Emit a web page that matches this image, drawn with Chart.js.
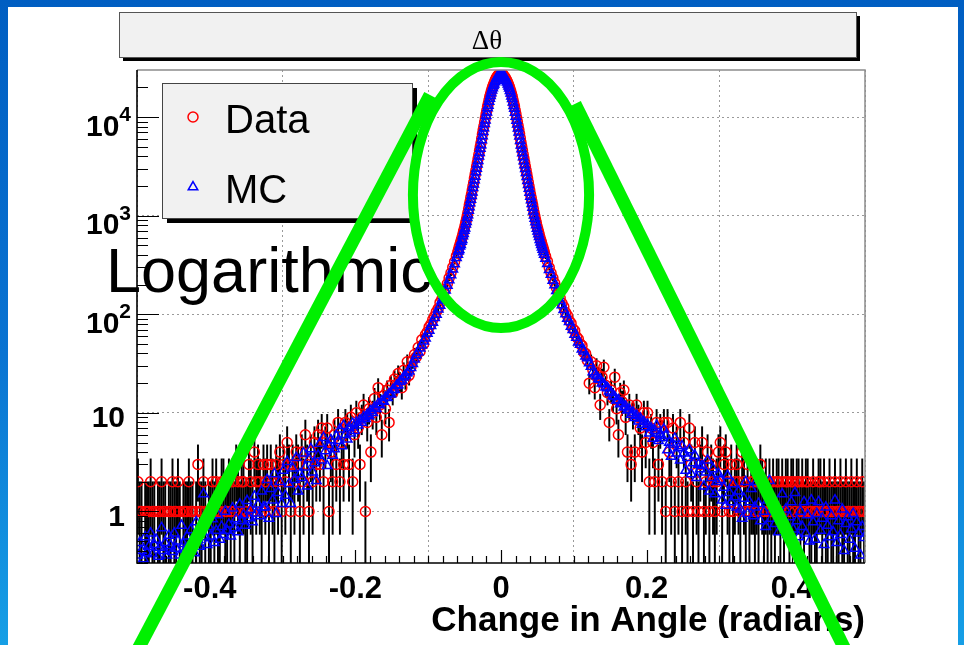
<!DOCTYPE html>
<html>
<head>
<meta charset="utf-8">
<title>Δθ</title>
<script src="https://cdn.jsdelivr.net/npm/chart.js@4.4.1/dist/chart.umd.min.js"></script>
<style>
  html, body { margin: 0; padding: 0; overflow: hidden; }
  body {
    width: 964px; height: 645px; position: relative;
    background: linear-gradient(to bottom, #005ec2 0%, #0a74d2 55%, #169fe6 100%);
  }
  #sheet { position: absolute; left: 8px; top: 7px; width: 950px; height: 638px; background: #fff; }
  #wrap { position: absolute; left: 0; top: 0; width: 964px; height: 645px; }
</style>
</head>
<body>
<div id="sheet"></div>
<div id="wrap"><canvas id="chart"></canvas></div>
<script>
// histogram binning: [low edge, high edge, bin width]
const binSegments = [
  [-0.50, -0.06, 0.0025],
  [-0.06, 0.06, 0.001],
  [0.06, 0.50, 0.0025]
];

const dataCounts = [
  // -0.50 .. -0.12
  2, 1, 1, 0, 1, 1, 1, 2, 1, 1,
  0, 1, 1, 2, 1, 1, 0, 1, 1, 2,
  1, 1, 2, 1, 0, 1, 1, 1, 2, 1,
  1, 0, 1, 3, 1, 1, 2, 1, 0, 1,
  1, 2, 1, 2, 1, 1, 2, 2, 1, 1,
  2, 1, 2, 1, 3, 2, 1, 2, 2, 1,
  1, 3, 2, 1, 4, 2, 3, 2, 1, 3,
  2, 3, 1, 3, 2, 1, 3, 2, 4, 1,
  3, 2, 5, 3, 1, 3, 2, 4, 3, 1,
  4, 2, 6, 3, 1, 4, 2, 5, 3, 6,
  3, 7, 2, 5, 7, 1, 4, 2, 6, 3,
  8, 2, 5, 3, 8, 7, 3, 9, 2, 6,
  10, 7, 3, 9, 12, 1, 8, 11, 4, 10,
  14, 9, 18, 12, 6, 15, 11, 17, 8, 19,
  16, 22, 19, 25, 21, 18, 27, 22, 33, 24,
  29, 34,
  // -0.12 .. -0.06
  39, 37, 46, 42, 55, 50, 62, 66, 74, 79, 88, 95, 106, 114, 131, 142, 163, 180, 204, 233, 262, 300, 340, 390,
  // -0.06 .. 0
  421, 448, 478, 503, 534, 565, 601, 640, 690, 728,
  782, 845, 905, 982, 1068, 1165, 1283, 1385, 1522, 1650,
  1810, 1985, 2170, 2390, 2620, 2865, 3150, 3440, 3780, 4150,
  4540, 4980, 5460, 6050, 6710, 7370, 8060, 8850, 9700, 10650,
  11620, 12720, 13620, 14780, 15950, 16900, 18000, 19100, 20150, 21100,
  22000, 23100, 23900, 24800, 25450, 26150, 26600, 27200, 27600, 28100,
  // 0 .. 0.06
  28000, 27450, 26950, 26400, 25800, 25250, 24450, 23700, 22900, 22000,
  21100, 20150, 19150, 18100, 16980, 16050, 14850, 13750, 12830, 11720,
  10740, 9780, 8950, 8160, 7440, 6770, 6110, 5500, 5010, 4560,
  4170, 3800, 3460, 3150, 2880, 2620, 2390, 2175, 1985, 1810,
  1650, 1520, 1390, 1278, 1168, 1066, 985, 905, 846, 780,
  731, 686, 643, 601, 566, 535, 504, 478, 451, 425,
  // 0.06 .. 0.12
  386, 344, 297, 262, 233, 206, 185, 160, 146, 129, 119, 104, 97, 86, 81, 71, 68, 59, 56, 50, 48, 41, 40, 34,
  // 0.12 .. 0.50
  20, 33,
  27, 18, 30, 24, 12, 23, 29, 19, 16, 8,
  17, 14, 23, 11, 6, 16, 13, 17, 9, 4,
  12, 3, 10, 4, 12, 9, 7, 4, 10, 5,
  10, 2, 7, 5, 2, 8, 3, 7, 2, 8,
  1, 8, 4, 2, 7, 1, 5, 2, 8, 1,
  5, 2, 1, 7, 3, 1, 5, 2, 1, 3,
  5, 1, 2, 4, 1, 3, 2, 1, 2, 4,
  5, 1, 3, 4, 2, 1, 3, 1, 2, 3,
  2, 1, 4, 2, 1, 3, 1, 2, 2, 1,
  2, 1, 3, 2, 1, 2, 1, 2, 1, 2,
  1, 2, 2, 1, 2, 1, 2, 2, 1, 2,
  2, 1, 2, 2, 1, 2, 1, 2, 2, 1,
  1, 2, 1, 1, 2, 2, 1, 2, 1, 1,
  2, 1, 1, 2, 1, 1, 2, 1, 1, 2,
  1, 1, 2, 1, 1, 2, 1, 1, 2, 1
];

const mcCounts = [
  // -0.50 .. -0.12
  0.36, 0.48, 0.40, 0.33, 0.55, 0.38, 0.44, 0.60, 0.37, 0.46,
  0.52, 0.35, 0.43, 0.68, 0.40, 0.48, 0.36, 0.57, 0.45, 0.39,
  0.60, 0.42, 0.50, 0.36, 0.72, 0.47, 0.41, 0.56, 0.45, 0.65,
  0.48, 0.38, 0.78, 0.52, 0.44, 0.62, 1.50, 0.55, 0.46, 0.70,
  0.56, 0.84, 0.48, 0.64, 0.92, 0.52, 0.70, 0.58, 1.00, 0.64,
  0.74, 0.56, 1.08, 0.68, 0.84, 0.62, 1.18, 0.80, 0.92, 0.72,
  1.28, 0.86, 1.04, 0.78, 1.42, 0.96, 1.18, 0.90, 1.60, 1.10,
  1.10, 2.10, 0.85, 1.70, 1.30, 2.40, 0.95, 1.55, 2.00, 1.20,
  2.60, 1.45, 3.20, 1.90, 1.20, 2.75, 2.10, 3.50, 1.60, 2.40,
  2.20, 3.90, 2.80, 1.80, 3.40, 4.30, 2.50, 3.10, 2.05, 3.70,
  4.90, 3.30, 5.60, 4.10, 2.90, 4.60, 5.30, 3.70, 4.30, 5.80,
  5.20, 6.80, 4.60, 7.40, 6.00, 5.40, 7.10, 6.20, 7.80, 6.60,
  8.00, 7.50, 8.40, 8.00, 9.10, 8.70, 9.60, 9.30, 10.5, 10.0,
  11.4, 11.0, 12.3, 12.0, 13.2, 13.0, 14.3, 14.2, 15.6, 15.4,
  17.0, 17.2, 18.8, 19.2, 20.8, 21.4, 23.0, 23.8, 25.4, 26.4,
  28.6, 31.4,
  // -0.12 .. -0.06
  35.0, 38.6, 41.2, 45.3, 48.5, 53.1, 57.0, 63.8, 68.5, 76.4, 82.6, 91.9, 99.3, 112.6, 122.4, 138.8, 154.3, 174.9, 196.2, 222.0, 250.1, 286.2, 323.1, 373.4,
  // -0.06 .. 0
  403, 436, 452, 489, 508, 548, 570, 622, 655, 706,
  744, 818, 865, 950, 1015, 1130, 1222, 1342, 1455, 1594,
  1729, 1916, 2080, 2302, 2500, 2768, 3005, 3330, 3612, 4003,
  4342, 4810, 5220, 5850, 6420, 7110, 7725, 8550, 9290, 10280,
  11170, 12360, 13120, 14350, 15420, 16470, 17500, 18700, 19650, 20730,
  21550, 22720, 23380, 24330, 25050, 25780, 26220, 26990, 27450, 28250,
  // 0 .. 0.06
  28100, 27380, 26850, 26310, 25620, 25040, 24180, 23390, 22510, 21540,
  20560, 19580, 18520, 17440, 16290, 15370, 14150, 13050, 12180, 11090,
  10150, 9210, 8430, 7690, 7010, 6390, 5760, 5190, 4730, 4310,
  3940, 3590, 3270, 2985, 2725, 2480, 2265, 2062, 1880, 1715,
  1565, 1444, 1318, 1212, 1108, 1011, 934, 860, 804, 741,
  694, 652, 611, 571, 538, 508, 479, 454, 428, 404,
  // 0.06 .. 0.12
  368.5, 326.0, 283.4, 252.7, 219.6, 198.3, 172.8, 156.1, 137.0, 124.2, 110.9, 100.8, 90.3, 83.9, 75.2, 69.8, 62.4, 58.1, 51.9, 49.4, 44.1, 42.2, 37.6, 35.9,
  // 0.12 .. 0.50
  32.0, 29.5,
  26.0, 24.6, 23.6, 22.0, 21.8, 20.0, 19.6, 18.2, 17.9, 16.6,
  16.0, 14.8, 14.6, 13.4, 13.5, 12.3, 12.5, 11.4, 11.6, 10.6,
  10.8, 9.6, 10.1, 8.9, 9.4, 8.2, 8.8, 7.6, 8.1, 7.2,
  7.6, 6.2, 7.0, 5.5, 6.6, 7.4, 5.2, 6.1, 5.6, 6.8,
  5.9, 4.2, 5.0, 3.6, 4.8, 5.5, 3.9, 4.4, 3.3, 4.6,
  3.9, 2.6, 3.5, 4.2, 2.4, 3.1, 3.7, 2.2, 3.0, 2.7,
  2.9, 1.8, 2.5, 3.3, 1.6, 2.2, 2.7, 1.5, 2.0, 2.4,
  2.10, 1.30, 1.75, 1.15, 2.30, 1.55, 1.25, 1.90, 1.40, 1.10,
  1.60, 1.05, 0.85, 1.35, 2.00, 0.95, 1.25, 1.70, 0.90, 1.10,
  2.00, 1.20, 0.80, 1.90, 1.00, 0.70, 1.30, 2.05, 0.85, 1.10,
  0.75, 1.15, 0.62, 0.95, 1.50, 0.70, 1.05, 0.58, 0.88, 1.25,
  0.66, 1.55, 0.80, 0.55, 1.00, 0.70, 1.25, 0.60, 0.92, 0.50,
  1.30, 0.78, 0.52, 0.95, 1.25, 0.64, 0.85, 0.46, 1.10, 0.72,
  0.55, 0.90, 0.62, 1.30, 0.48, 0.80, 0.58, 1.05, 0.40, 0.75,
  0.88, 0.52, 0.66, 0.95, 0.42, 0.78, 0.60, 0.36, 0.70, 0.54
];

const seriesNames = ['Data', 'MC'];
const xTickValues = [-0.4, -0.2, 0, 0.2, 0.4];
const xTickLabels = ['-0.4', '-0.2', '0', '0.2', '0.4'];
const yTickValues = [1, 10, 100, 1000, 10000];
const yTickBase = ['1', '10', '10', '10', '10'];
const yTickExp = ['', '', '2', '3', '4'];

const FONT = "'Liberation Sans', Arial, Helvetica, sans-serif";
const markerStyle = {
  Data: { shape: 'circle', radius: 5, color: '#ff0000', width: 1.5 },
  MC: { shape: 'triangle', radius: 5.5, color: '#0000ff', width: 1.5 }
};

const binCenters = [];
binSegments.forEach(([lo, hi, w]) => {
  const n = Math.round((hi - lo) / w);
  for (let j = 0; j < n; j++) binCenters.push(lo + (j + 0.5) * w);
});
if (binCenters.length !== dataCounts.length || binCenters.length !== mcCounts.length) {
  console.warn('bin count mismatch', binCenters.length, dataCounts.length, mcCounts.length);
}

// data points and their sqrt(N) error bars; empty bins are not drawn
const dataPoints = [];
const dataErrors = [];
dataCounts.forEach((n, i) => {
  if (n <= 0) return;
  const e = Math.sqrt(n);
  dataPoints.push({ x: binCenters[i], y: n });
  dataErrors.push({ x: binCenters[i], y: [Math.max(n - e, 0.01), n + e] });
});
const mcPoints = mcCounts.map((v, i) => ({ x: binCenters[i], y: v }));

function drawMarker(ctx, st, x, y) {
  ctx.save();
  ctx.strokeStyle = st.color;
  ctx.fillStyle = 'rgba(0,0,0,0)';
  ctx.lineWidth = st.width;
  Chart.helpers.drawPoint(ctx, { pointStyle: st.shape, radius: st.radius, borderWidth: st.width, rotation: 0 }, x, y);
  ctx.restore();
}

const rootFrame = {
  id: 'rootFrame',
  afterDraw(chart) {
    const { ctx, chartArea: a } = chart;
    const xs = chart.scales.x;
    const ys = chart.scales.y;
    ctx.save();

    // frame
    ctx.strokeStyle = '#8c8c8c';
    ctx.lineWidth = 1.5;
    ctx.beginPath();
    ctx.moveTo(a.left, a.top); ctx.lineTo(a.right, a.top); ctx.lineTo(a.right, a.bottom);
    ctx.stroke();
    ctx.strokeStyle = '#000';
    ctx.lineWidth = 1.6;
    ctx.beginPath();
    ctx.moveTo(a.left, a.top); ctx.lineTo(a.left, a.bottom); ctx.lineTo(a.right, a.bottom);
    ctx.stroke();

    // x ticks, inward
    ctx.lineWidth = 1.2;
    ctx.beginPath();
    for (let k = -24; k <= 24; k++) {
      const px = Math.round(xs.getPixelForValue(k * 0.02)) + 0.5;
      const len = k % 10 === 0 ? 13 : 7;
      ctx.moveTo(px, a.bottom); ctx.lineTo(px, a.bottom - len);
    }
    ctx.stroke();

    // y ticks, log decades with 2..9 subdivisions
    ctx.beginPath();
    for (let d = -1; d <= 4; d++) {
      for (let m = 1; m <= 9; m++) {
        const v = m * Math.pow(10, d);
        if (v < ys.min || v >= ys.max) continue;
        const py = Math.round(ys.getPixelForValue(v)) + 0.5;
        const len = m === 1 ? 22 : 11;
        ctx.moveTo(a.left, py); ctx.lineTo(a.left + len, py);
      }
    }
    ctx.stroke();

    // y labels with superscript exponents
    ctx.fillStyle = '#000';
    ctx.textBaseline = 'alphabetic';
    yTickValues.forEach((v, i) => {
      const py = ys.getPixelForValue(v);
      const right = a.left - 8;
      if (yTickExp[i]) {
        ctx.font = `bold 21px ${FONT}`;
        const ew = ctx.measureText(yTickExp[i]).width;
        ctx.textAlign = 'right';
        ctx.fillText(yTickExp[i], right + 2, py + 4);
        ctx.font = `bold 30px ${FONT}`;
        ctx.fillText(yTickBase[i], right + 2 - ew, py + 18.5);
      } else {
        ctx.font = `bold 30px ${FONT}`;
        ctx.textAlign = 'right';
        ctx.fillText(yTickBase[i], right - 4, py + 14.5);
      }
    });

    // title box
    ctx.fillStyle = '#000';
    ctx.fillRect(123, 16, 737, 45);
    ctx.fillStyle = '#f1f1f1';
    ctx.fillRect(119, 12, 737, 45);
    ctx.strokeStyle = '#555';
    ctx.lineWidth = 1;
    ctx.strokeRect(119.5, 12.5, 737, 45);
    ctx.fillStyle = '#000';
    ctx.font = "27px 'Liberation Serif', 'Times New Roman', serif";
    ctx.textAlign = 'center';
    ctx.fillText('Δθ', 487, 49);

    // legend
    ctx.fillStyle = '#000';
    ctx.fillRect(167, 88, 250, 135);
    ctx.fillStyle = '#f1f1f1';
    ctx.fillRect(162, 83, 250, 135);
    ctx.strokeStyle = '#444';
    ctx.strokeRect(162.5, 83.5, 250, 135);
    ctx.font = `40px ${FONT}`;
    ctx.textAlign = 'left';
    const rows = [117, 187];
    seriesNames.forEach((name, i) => {
      drawMarker(ctx, markerStyle[name], 193, rows[i]);
      ctx.fillStyle = '#000';
      ctx.fillText(name, 225, rows[i] + 16);
    });

    // annotation text
    ctx.font = `63px ${FONT}`;
    ctx.fillText('Logarithmic', 106, 292);

    // green annotation strokes, placed in axis units
    ctx.strokeStyle = '#00f000';
    ctx.lineCap = 'butt';
    ctx.lineWidth = 13;
    const strokes = [
      [[-0.0975, 16700], [-0.5076, 0.03]],
      [[0.1016, 13600], [0.4808, 0.03]]
    ];
    strokes.forEach(([p, q]) => {
      ctx.beginPath();
      ctx.moveTo(xs.getPixelForValue(p[0]), ys.getPixelForValue(p[1]));
      ctx.lineTo(xs.getPixelForValue(q[0]), ys.getPixelForValue(q[1]));
      ctx.stroke();
    });
    const cx = xs.getPixelForValue(0);
    const rx = xs.getPixelForValue(0.121) - cx;
    const yTop = ys.getPixelForValue(36100);
    const yBot = ys.getPixelForValue(72.4);
    ctx.lineWidth = 10;
    ctx.beginPath();
    ctx.ellipse(cx, (yTop + yBot) / 2, rx, (yBot - yTop) / 2, 0, 0, Math.PI * 2);
    ctx.stroke();

    ctx.restore();
  }
};

const gridDash = [2, 3];

new Chart(document.getElementById('chart'), {
  type: 'scatter',
  data: {
    datasets: [
      {
        type: 'bar',
        label: 'Data errors',
        data: dataErrors,
        backgroundColor: '#000',
        borderWidth: 0,
        barThickness: 1.3,
        grouped: false,
        order: 3
      },
      {
        label: seriesNames[0],
        data: dataPoints,
        pointStyle: markerStyle.Data.shape,
        pointRadius: markerStyle.Data.radius,
        pointBorderColor: markerStyle.Data.color,
        pointBackgroundColor: 'rgba(0,0,0,0)',
        pointBorderWidth: markerStyle.Data.width,
        order: 2
      },
      {
        label: seriesNames[1],
        data: mcPoints,
        pointStyle: markerStyle.MC.shape,
        pointRadius: markerStyle.MC.radius,
        pointBorderColor: markerStyle.MC.color,
        pointBackgroundColor: 'rgba(0,0,0,0)',
        pointBorderWidth: markerStyle.MC.width,
        order: 1
      }
    ]
  },
  options: {
    responsive: true,
    maintainAspectRatio: false,
    animation: false,
    events: [],
    layout: { padding: { left: 0, right: 99, top: 70, bottom: 0 } },
    plugins: { legend: { display: false }, tooltip: { enabled: false } },
    scales: {
      x: {
        type: 'linear',
        min: -0.5,
        max: 0.5,
        offset: false,
        afterFit: (s) => { s.height = 82; },
        afterBuildTicks: (s) => { s.ticks = xTickValues.map(v => ({ value: v })); },
        ticks: {
          callback: (v, i) => xTickLabels[i],
          color: '#000',
          padding: 8,
          maxRotation: 0,
          font: { family: FONT, size: 31, weight: 'bold' }
        },
        grid: { color: '#9a9a9a', lineWidth: 1, drawTicks: false },
        border: { display: false, dash: gridDash },
        title: {
          display: true,
          text: 'Change in Angle (radians)',
          align: 'end',
          color: '#000',
          font: { family: FONT, size: 35, weight: 'bold' },
          padding: { top: 0, bottom: 3 }
        }
      },
      y: {
        type: 'logarithmic',
        min: 0.3,
        max: 30000,
        afterFit: (s) => { s.width = 137; },
        afterBuildTicks: (s) => { s.ticks = yTickValues.map(v => ({ value: v })); },
        ticks: { display: false },
        grid: { color: '#9a9a9a', lineWidth: 1, drawTicks: false },
        border: { display: false, dash: gridDash }
      }
    }
  },
  plugins: [rootFrame]
});
</script>
</body>
</html>
